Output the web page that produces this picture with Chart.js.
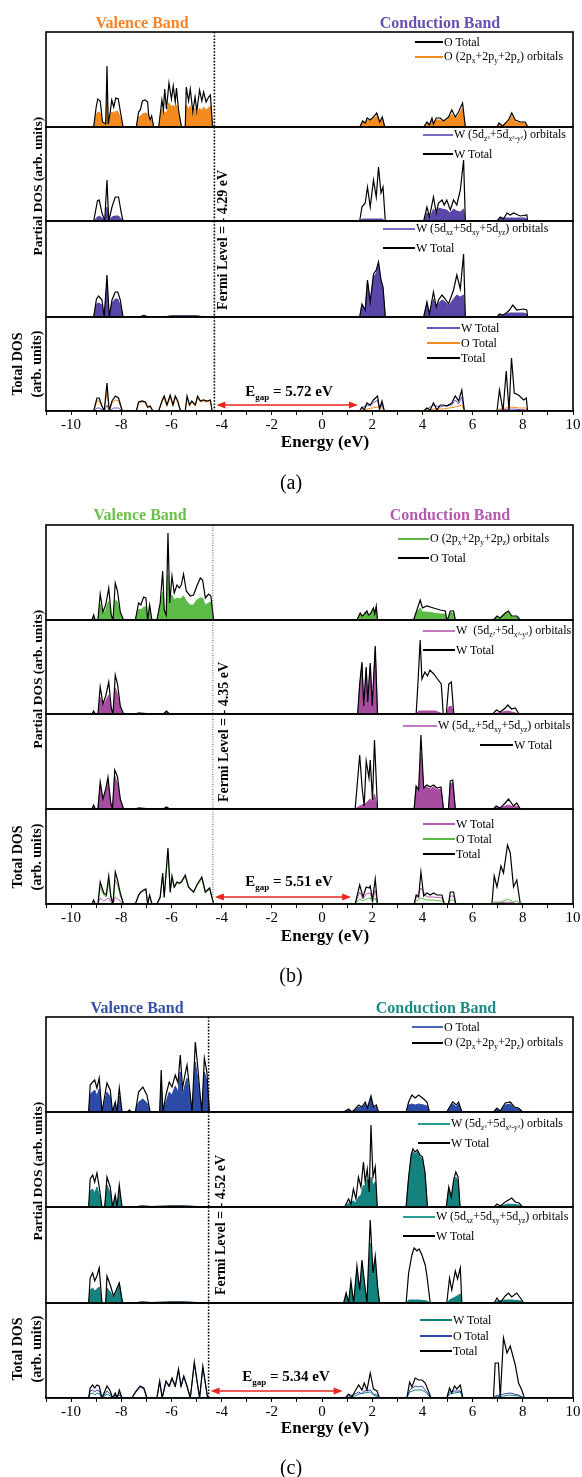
<!DOCTYPE html>
<html>
<head>
<meta charset="utf-8">
<script src="https://cdn.jsdelivr.net/npm/chart.js@4.4.0/dist/chart.umd.min.js"></script>
<style>
  body { margin: 0; background: #fff; width: 582px; height: 1477px; position: relative; overflow: hidden; font-family: "Liberation Serif", "Times New Roman", serif; }
  canvas { position: absolute; }
  .t { position: absolute; white-space: nowrap; transform: translate(-50%, -50%); line-height: 1; }
  .leg { position: absolute; white-space: nowrap; font-size: 12px; line-height: 1; transform: translateY(-50%); }
  .ln { position: absolute; height: 1.5px; }
  sub { font-size: 7.5px; vertical-align: -3px; }
</style>
</head>
<body>
<script>
// energy range (eV)
const xMin = -11, xMax = 10;

// ---------- panel (a) ----------
const a1_oTot = [[-9.5,0],[-9.1,0],[-9.0,20],[-8.94,28],[-8.84,26],[-8.75,5],[-8.62,3],[-8.57,61],[-8.52,3],[-8.44,15],[-8.38,27],[-8.3,20],[-8.22,29],[-8.12,28],[-8.0,10],[-7.93,0],
  [-7.4,0],[-7.31,15],[-7.24,17],[-7.16,26],[-7.05,27],[-6.95,25],[-6.91,12],[-6.85,7],[-6.79,11],[-6.71,0],
  [-6.51,0],[-6.38,27],[-6.32,17],[-6.27,38],[-6.2,18],[-6.1,44],[-6.0,28],[-5.93,41],[-5.85,25],[-5.8,39],[-5.72,17],[-5.6,0],
  [-5.45,0],[-5.41,40],[-5.32,26],[-5.25,38],[-5.15,15],[-5.06,30],[-4.99,16],[-4.88,37],[-4.79,26],[-4.72,35],[-4.62,25],[-4.52,30],[-4.45,32],[-4.36,0],
  [1.5,0],[1.62,6],[1.72,4],[1.8,9],[1.92,7],[2.05,10],[2.18,14],[2.3,5],[2.4,10],[2.5,0],
  [4.05,0],[4.18,5],[4.28,2],[4.38,9],[4.44,3],[4.55,9],[4.71,9],[4.84,6],[5.04,10],[5.17,17],[5.31,10],[5.44,15],[5.6,24],[5.71,0],
  [6.97,0],[7.05,4],[7.2,1],[7.43,7],[7.56,14],[7.7,7],[7.9,5],[8.1,5],[8.2,0],[8.3,0]];
const a1_oOrb = [[-9.5,0],[-9.1,0],[-9.0,12],[-8.94,15],[-8.84,14],[-8.75,4],[-8.62,2],[-8.57,31],[-8.52,2],[-8.44,12],[-8.38,15],[-8.3,14],[-8.22,16],[-8.12,15],[-8.0,6],[-7.93,0],
  [-7.4,0],[-7.31,10],[-7.24,11],[-7.16,13],[-7.05,14],[-6.95,13],[-6.91,8],[-6.85,5],[-6.79,7],[-6.71,0],
  [-6.51,0],[-6.38,18],[-6.3,15],[-6.2,14],[-6.1,24],[-6.0,20],[-5.93,22],[-5.85,19],[-5.8,22],[-5.72,13],[-5.6,0],
  [-5.45,0],[-5.41,22],[-5.32,18],[-5.25,21],[-5.15,12],[-5.06,19],[-4.99,13],[-4.88,19],[-4.79,16],[-4.72,20],[-4.62,17],[-4.52,19],[-4.45,21],[-4.36,0],
  [1.5,0],[1.62,5],[1.72,3],[1.8,7],[1.92,6],[2.05,8],[2.18,11],[2.3,4],[2.4,8],[2.5,0],
  [4.05,0],[4.18,4],[4.28,1],[4.38,7],[4.44,2],[4.55,7],[4.71,7],[4.84,5],[5.04,8],[5.17,13],[5.31,8],[5.44,12],[5.6,19],[5.71,0],
  [6.97,0],[7.05,3],[7.2,1],[7.43,5],[7.56,11],[7.7,5],[7.9,4],[8.1,4],[8.2,0],[8.3,0]];
const a2_wTot = [[-9.1,0],[-8.95,20],[-8.88,21],[-8.77,8],[-8.66,0],[-8.57,41],[-8.5,0],[-8.37,14],[-8.24,24],[-8.11,24],[-8.0,8],[-7.93,0],
  [1.5,0],[1.59,14],[1.72,18],[1.81,34],[1.92,14],[2.05,41],[2.16,24],[2.25,54],[2.35,28],[2.43,34],[2.52,0],
  [4.05,0],[4.18,14],[4.28,4],[4.44,24],[4.55,8],[4.64,18],[4.78,21],[4.87,16],[4.97,21],[5.11,11],[5.24,21],[5.37,16],[5.51,31],[5.64,61],[5.71,0],
  [6.97,0],[7.1,4],[7.23,2],[7.37,8],[7.5,6],[7.63,8],[7.9,5],[8.16,6],[8.19,0]];
const a2_wEg = [[-9.1,0],[-8.95,4],[-8.88,5],[-8.77,3],[-8.66,0],[-8.57,14],[-8.5,0],[-8.37,4],[-8.24,5],[-8.11,5],[-8.0,2],[-7.93,0],
  [1.5,0],[1.6,2],[2.0,2],[2.4,2],[2.52,0],
  [4.05,0],[4.18,8],[4.3,3],[4.44,12],[4.55,6],[4.64,13],[4.78,12],[4.97,11],[5.11,8],[5.24,12],[5.37,10],[5.51,9],[5.64,12],[5.71,0],
  [6.97,0],[7.1,3],[7.5,3],[8.1,3],[8.19,0]];
const a3_wTot = [[-9.1,0],[-8.99,18],[-8.9,21],[-8.77,17],[-8.68,0],[-8.57,42],[-8.48,0],[-8.37,17],[-8.24,25],[-8.14,25],[-8.04,17],[-7.93,0],
  [-7.3,0],[-7.1,1.5],[-6.9,0],[-6.4,0],[-6.0,1],[-5.5,1],[-5.0,1],[-4.6,0],
  [1.5,0],[1.59,13],[1.72,7],[1.81,37],[1.92,15],[2.05,43],[2.16,47],[2.25,55],[2.35,37],[2.43,30],[2.52,0],
  [4.05,0],[4.18,15],[4.28,3],[4.44,25],[4.55,10],[4.64,17],[4.78,22],[4.91,18],[5.04,13],[5.24,27],[5.37,42],[5.51,28],[5.64,63],[5.71,0],
  [6.97,0],[7.07,3],[7.21,2],[7.34,4],[7.47,7],[7.6,12],[7.76,7],[8.03,8],[8.16,7],[8.19,0]];
const a3_wT2g = [[-9.1,0],[-8.99,13],[-8.9,14],[-8.77,12],[-8.68,0],[-8.57,33],[-8.48,0],[-8.37,14],[-8.24,18],[-8.14,18],[-8.04,12],[-7.93,0],
  [-7.3,0],[-7.1,1],[-6.9,0],[-6.4,0],[-6.0,1],[-5.5,1],[-5.0,1],[-4.6,0],
  [1.5,0],[1.59,12],[1.72,6],[1.81,35],[1.92,14],[2.05,40],[2.16,44],[2.25,52],[2.35,35],[2.43,28],[2.52,0],
  [4.05,0],[4.18,12],[4.28,2],[4.44,18],[4.55,8],[4.64,14],[4.78,17],[4.91,15],[5.04,11],[5.24,18],[5.37,22],[5.51,20],[5.64,22],[5.71,0],
  [6.97,0],[7.07,2],[7.21,1],[7.34,3],[7.47,4],[7.6,4],[7.76,4],[8.03,4],[8.16,3],[8.19,0]];
const a4_tot = [[-9.1,0],[-8.97,13],[-8.88,13],[-8.77,5],[-8.68,0],[-8.57,28],[-8.48,0],[-8.37,10],[-8.24,15],[-8.11,13],[-7.96,0],
  [-7.4,0],[-7.31,9],[-7.17,10],[-7.04,9],[-6.95,4],[-6.85,5],[-6.74,0],
  [-6.51,0],[-6.38,10],[-6.29,15],[-6.18,6],[-6.05,16],[-5.94,6],[-5.85,15],[-5.75,10],[-5.64,0],
  [-5.45,0],[-5.38,15],[-5.28,6],[-5.19,10],[-5.05,6],[-4.96,15],[-4.85,10],[-4.72,11],[-4.59,10],[-4.45,11],[-4.38,0],
  [1.5,0],[1.59,4],[1.68,1],[1.79,8],[1.92,6],[2.05,11],[2.21,15],[2.29,2],[2.39,10],[2.48,0],
  [4.05,0],[4.18,3],[4.31,1],[4.44,8],[4.58,1],[4.71,6],[4.84,6],[4.97,5],[5.17,8],[5.31,15],[5.44,10],[5.57,21],[5.67,0],
  [6.97,0],[7.07,21],[7.21,0],[7.34,40],[7.45,0],[7.55,53],[7.66,18],[7.83,16],[8.03,11],[8.14,13],[8.19,0]];
const a4_oTot = [[-9.1,0],[-8.97,10],[-8.88,10],[-8.77,4],[-8.68,0],[-8.57,20],[-8.48,0],[-8.37,8],[-8.24,11],[-8.11,10],[-7.96,0],
  [-7.4,0],[-7.31,8],[-7.17,9],[-7.04,8],[-6.95,3],[-6.85,4],[-6.74,0],
  [-6.51,0],[-6.38,9],[-6.29,13],[-6.18,5],[-6.05,14],[-5.94,5],[-5.85,13],[-5.75,9],[-5.64,0],
  [-5.45,0],[-5.38,13],[-5.28,5],[-5.19,9],[-5.05,5],[-4.96,13],[-4.85,9],[-4.72,10],[-4.59,9],[-4.45,10],[-4.38,0],
  [1.5,0],[1.8,2],[2.2,4],[2.4,3],[2.48,0],[4.05,0],[4.44,2],[4.84,2],[5.31,4],[5.57,6],[5.67,0],
  [6.97,0],[7.07,2],[7.34,3],[7.55,4],[7.83,3],[8.14,3],[8.19,0]];
const a4_wTot = [[-9.1,0],[-8.97,3],[-8.88,3],[-8.68,0],[-8.57,6],[-8.48,0],[-8.3,3],[-8.11,3],[-7.96,0],[-6.0,0.5],[-4.38,0],
  [1.5,0],[1.59,3],[1.79,6],[1.92,5],[2.05,8],[2.21,11],[2.29,1],[2.39,7],[2.48,0],
  [4.05,0],[4.18,2],[4.44,6],[4.71,4],[4.84,5],[5.17,6],[5.31,11],[5.44,7],[5.57,14],[5.67,0],
  [6.97,0],[7.07,1],[7.55,2],[8.14,1],[8.19,0]];

// ---------- panel (b) ----------
const b1_oTot = [[-9.5,0],[-9.17,0],[-9.1,5],[-9.04,0],[-8.93,0],[-8.84,26],[-8.73,8],[-8.62,15],[-8.5,32],[-8.4,5],[-8.33,0],[-8.24,37],[-8.15,29],[-8.04,8],[-7.91,0],
  [-7.44,0],[-7.31,17],[-7.22,15],[-7.11,23],[-7.02,22],[-6.95,0],[-6.87,15],[-6.78,0],
  [-6.58,0],[-6.45,17],[-6.35,49],[-6.29,10],[-6.21,5],[-6.14,87],[-6.07,17],[-5.98,44],[-5.89,27],[-5.78,35],[-5.69,32],[-5.61,35],[-5.52,46],[-5.41,29],[-5.25,24],[-5.12,25],[-4.99,34],[-4.85,42],[-4.76,40],[-4.65,22],[-4.52,26],[-4.43,24],[-4.32,0],
  [1.39,0],[1.52,7],[1.6,4],[1.65,5],[1.79,9],[1.85,5],[1.92,6],[2.05,12],[2.1,6],[2.16,14],[2.21,0],
  [3.65,0],[3.78,10],[3.91,20],[4.0,12],[4.18,14],[4.44,12],[4.71,10],[4.91,9],[4.97,0],[5.04,3],[5.11,9],[5.24,9],[5.31,0],
  [6.83,0],[6.97,4],[7.1,2],[7.3,7],[7.43,9],[7.56,4],[7.76,4],[7.9,0]];
const b1_oOrb = [[-9.5,0],[-9.17,0],[-9.1,3],[-9.04,0],[-8.93,0],[-8.84,16],[-8.73,6],[-8.62,10],[-8.5,19],[-8.4,3],[-8.33,0],[-8.24,20],[-8.15,18],[-8.04,6],[-7.91,0],
  [-7.44,0],[-7.31,11],[-7.22,10],[-7.11,13],[-7.02,13],[-6.95,0],[-6.87,10],[-6.78,0],
  [-6.58,0],[-6.45,15],[-6.35,28],[-6.29,8],[-6.21,4],[-6.14,45],[-6.07,15],[-5.98,25],[-5.89,20],[-5.78,22],[-5.69,21],[-5.61,22],[-5.52,24],[-5.41,19],[-5.25,15],[-5.12,15],[-4.99,20],[-4.85,22],[-4.76,22],[-4.65,15],[-4.52,17],[-4.43,18],[-4.32,0],
  [1.39,0],[1.52,6],[1.6,3],[1.65,4],[1.79,8],[1.85,4],[1.92,5],[2.05,11],[2.1,5],[2.16,13],[2.21,0],
  [3.65,0],[3.78,8],[3.91,12],[4.0,8],[4.18,8],[4.44,7],[4.71,6],[4.91,6],[4.97,0],[5.04,2],[5.11,7],[5.24,7],[5.31,0],
  [6.83,0],[6.97,3],[7.1,2],[7.3,6],[7.43,8],[7.56,3],[7.76,3],[7.9,0]];
const b2_wTot = [[-9.17,0],[-9.1,3],[-9.04,0],[-8.93,0],[-8.84,27],[-8.73,10],[-8.62,18],[-8.5,32],[-8.4,6],[-8.33,0],[-8.24,39],[-8.15,30],[-8.04,8],[-7.91,0],
  [-7.5,0],[-7.3,1],[-7.0,0.5],[-6.3,0.5],[-6.2,3],[-6.1,0.5],[-5.5,0.5],[-4.8,0.5],[-4.6,0],
  [1.42,0],[1.5,30],[1.59,52],[1.66,8],[1.76,47],[1.82,12],[1.92,51],[2.0,8],[2.12,68],[2.21,0],
  [3.75,0],[3.82,30],[3.91,74],[3.98,35],[4.1,42],[4.2,38],[4.3,44],[4.45,40],[4.6,35],[4.75,30],[4.83,0],[4.95,0],[5.05,30],[5.15,32],[5.25,0],
  [6.8,0],[6.95,4],[7.1,2],[7.3,6],[7.4,9],[7.55,5],[7.7,6],[7.85,0]];
const b2_wEg = [[-9.17,0],[-9.1,2],[-9.04,0],[-8.93,0],[-8.84,17],[-8.73,8],[-8.62,13],[-8.5,19],[-8.4,4],[-8.33,0],[-8.24,26],[-8.15,20],[-8.04,6],[-7.91,0],
  [-7.5,0],[-7.3,1],[-7.0,0.5],[-6.3,0.5],[-6.2,3],[-6.1,0.5],[-5.5,0.5],[-4.8,0.5],[-4.6,0],
  [1.42,0],[1.5,28],[1.59,50],[1.66,8],[1.76,45],[1.82,12],[1.92,49],[2.0,8],[2.12,65],[2.21,0],
  [3.75,0],[3.85,3],[4.5,3],[4.83,0],[4.95,0],[5.05,7],[5.15,8],[5.25,0],
  [6.8,0],[7.0,1],[7.4,3],[7.85,0]];
const b3_wTot = [[-9.17,0],[-9.1,4],[-9.04,0],[-8.93,0],[-8.84,27],[-8.73,10],[-8.62,20],[-8.53,32],[-8.42,6],[-8.35,0],[-8.26,39],[-8.15,32],[-8.04,10],[-7.91,0],
  [-7.5,0],[-7.3,1],[-7.0,0.5],[-6.3,0.5],[-6.2,2],[-6.1,0.5],[-5.5,0.5],[-4.8,0.5],[-4.6,0],
  [1.32,0],[1.5,54],[1.6,20],[1.68,3],[1.76,48],[1.87,31],[1.92,49],[2.01,9],[2.09,69],[2.21,0],
  [3.67,0],[3.75,23],[3.85,19],[3.94,74],[4.05,21],[4.18,24],[4.31,22],[4.44,24],[4.58,21],[4.74,22],[4.84,0],[5.04,0],[5.11,28],[5.21,29],[5.31,0],
  [6.83,0],[6.94,3],[7.1,1],[7.3,6],[7.43,10],[7.63,3],[7.76,6],[7.9,0]];
const b3_wT2g = [[-9.17,0],[-9.1,3],[-9.04,0],[-8.93,0],[-8.84,24],[-8.73,9],[-8.62,17],[-8.53,28],[-8.42,5],[-8.35,0],[-8.26,33],[-8.15,25],[-8.04,8],[-7.91,0],
  [-7.5,0],[-7.3,1],[-7.0,0.5],[-6.3,0.5],[-6.2,2],[-6.1,0.5],[-5.5,0.5],[-4.8,0.5],[-4.6,0],
  [1.32,0],[1.5,3],[1.68,5],[1.76,6],[1.92,10],[2.01,8],[2.09,15],[2.21,0],
  [3.67,0],[3.75,23],[3.85,19],[3.94,56],[4.05,21],[4.18,22],[4.31,20],[4.44,22],[4.58,19],[4.74,20],[4.84,0],[5.04,0],[5.11,25],[5.21,26],[5.31,0],
  [6.83,0],[6.94,2],[7.1,1],[7.3,3],[7.43,4],[7.63,2],[7.76,3],[7.9,0]];
const b4_tot = [[-9.17,0],[-9.1,4],[-9.04,0],[-8.93,0],[-8.84,22],[-8.7,11],[-8.6,9],[-8.5,28],[-8.41,7],[-8.33,0],[-8.24,32],[-8.15,24],[-8.04,11],[-7.91,0],
  [-7.44,0],[-7.31,9],[-7.22,12],[-7.11,14],[-7.02,15],[-6.95,0],[-6.87,9],[-6.78,0],
  [-6.58,0],[-6.45,7],[-6.35,31],[-6.29,7],[-6.14,56],[-6.05,12],[-5.98,28],[-5.89,17],[-5.78,22],[-5.69,21],[-5.61,22],[-5.45,29],[-5.32,17],[-5.12,12],[-4.99,19],[-4.79,27],[-4.65,12],[-4.48,16],[-4.32,0],
  [1.32,0],[1.5,19],[1.63,7],[1.76,17],[1.87,16],[1.92,18],[2.01,4],[2.12,25],[2.21,0],
  [3.67,0],[3.75,9],[3.85,7],[3.94,32],[4.05,8],[4.18,11],[4.31,9],[4.44,11],[4.58,9],[4.78,9],[4.87,0],[5.04,0],[5.11,12],[5.24,12],[5.33,0],
  [6.77,0],[6.86,28],[6.97,17],[7.13,38],[7.23,31],[7.39,59],[7.5,51],[7.63,17],[7.76,24],[7.9,0]];
const b4_oTot = [[-9.17,0],[-9.1,3],[-9.04,0],[-8.93,0],[-8.84,17],[-8.7,9],[-8.6,7],[-8.5,21],[-8.41,5],[-8.33,0],[-8.24,24],[-8.15,19],[-8.04,8],[-7.91,0],
  [-7.44,0],[-7.31,8],[-7.22,11],[-7.11,13],[-7.02,14],[-6.95,0],[-6.87,8],[-6.78,0],
  [-6.58,0],[-6.45,6],[-6.35,29],[-6.29,6],[-6.14,53],[-6.05,11],[-5.98,26],[-5.89,16],[-5.78,21],[-5.69,20],[-5.61,21],[-5.45,27],[-5.32,16],[-5.12,11],[-4.99,18],[-4.79,25],[-4.65,11],[-4.48,15],[-4.32,0],
  [1.32,0],[1.5,5],[1.63,3],[1.76,5],[1.92,6],[2.01,2],[2.12,6],[2.21,0],
  [3.67,0],[3.75,3],[3.94,6],[4.18,4],[4.44,4],[4.78,3],[4.87,0],[5.04,0],[5.11,4],[5.24,4],[5.33,0],
  [6.77,0],[6.86,2],[7.13,2],[7.39,5],[7.63,2],[7.76,3],[7.9,0]];
const b4_wTot = [[-9.17,0],[-8.93,0],[-8.84,6],[-8.7,3],[-8.5,6],[-8.41,2],[-8.33,0],[-8.24,7],[-8.15,5],[-7.91,0],[-6.2,0.5],[-4.32,0],
  [1.32,0],[1.5,12],[1.63,5],[1.76,10],[1.92,11],[2.01,3],[2.12,14],[2.21,0],
  [3.67,0],[3.75,6],[3.94,16],[4.18,7],[4.44,7],[4.78,6],[4.87,0],[5.04,0],[5.11,8],[5.24,8],[5.33,0],
  [6.77,0],[6.86,1],[7.39,2],[7.9,0]];

// ---------- panel (c) ----------
const c1_oTot = [[-9.5,0],[-9.3,0],[-9.24,18],[-9.14,20],[-9.06,22],[-8.97,16],[-8.88,23],[-8.77,0],[-8.57,20],[-8.44,15],[-8.35,0],[-8.24,7],[-8.17,0],[-8.08,16],[-7.97,0],
  [-7.77,0],[-7.68,1.5],[-7.58,0],[-7.44,0],[-7.31,10],[-7.14,13],[-6.98,9],[-6.85,0],
  [-6.47,0],[-6.41,28],[-6.34,0],[-6.22,10],[-6.09,20],[-5.98,17],[-5.85,26],[-5.74,20],[-5.65,40],[-5.56,17],[-5.45,28],[-5.38,34],[-5.28,17],[-5.18,0],[-5.05,50],[-4.96,34],[-4.85,10],[-4.79,0],[-4.69,40],[-4.59,30],[-4.49,0],
  [0.86,0],[1.06,2],[1.19,0],[1.32,2],[1.46,5],[1.59,4],[1.72,8],[1.81,3],[1.95,13],[2.05,4],[2.16,5],[2.25,0],
  [3.35,0],[3.45,7],[3.58,8],[3.71,7],[3.85,8],[4.05,7],[4.18,6],[4.28,0],
  [4.97,0],[5.08,4],[5.21,8],[5.35,5],[5.44,8],[5.57,0],
  [6.83,0],[6.97,3],[7.1,0.5],[7.3,7],[7.5,8],[7.66,4],[7.83,3],[8.0,0],[8.3,0]];
const c1_oOrb = [[-9.5,0],[-9.3,0],[-9.24,27],[-9.14,30],[-9.06,32],[-8.97,24],[-8.88,34],[-8.77,0],[-8.57,29],[-8.44,22],[-8.35,0],[-8.24,10],[-8.17,0],[-8.08,24],[-7.97,0],
  [-7.77,0],[-7.68,2],[-7.58,0],[-7.44,0],[-7.31,20],[-7.14,25],[-6.98,17],[-6.85,0],
  [-6.47,0],[-6.41,42],[-6.34,0],[-6.22,17],[-6.09,30],[-5.98,25],[-5.85,37],[-5.74,29],[-5.65,57],[-5.56,24],[-5.45,39],[-5.38,47],[-5.28,24],[-5.18,0],[-5.05,70],[-4.96,47],[-4.85,15],[-4.79,0],[-4.69,54],[-4.59,40],[-4.49,0],
  [0.86,0],[1.06,3],[1.19,0],[1.32,3],[1.46,7],[1.59,5],[1.72,10],[1.81,4],[1.95,16],[2.05,5],[2.16,7],[2.25,0],
  [3.35,0],[3.45,10],[3.58,17],[3.71,14],[3.85,17],[4.05,13],[4.18,10],[4.28,0],
  [4.97,0],[5.08,5],[5.21,10],[5.35,7],[5.44,10],[5.57,0],
  [6.83,0],[6.97,4],[7.1,1],[7.3,9],[7.5,10],[7.66,5],[7.83,4],[8.0,0],[8.3,0]];
const c2_wTot = [[-9.3,0],[-9.24,28],[-9.14,32],[-9.06,25],[-8.97,34],[-8.88,20],[-8.77,0],[-8.66,0],[-8.57,30],[-8.44,20],[-8.35,0],[-8.24,12],[-8.17,0],[-8.08,22],[-7.97,0],
  [-7.5,0],[-7.2,1],[-6.8,0.5],[-6.0,1],[-5.5,1],[-5.0,0.5],[-4.6,0],
  [0.9,0],[1.06,8],[1.15,3],[1.25,18],[1.35,8],[1.45,30],[1.55,20],[1.65,45],[1.72,25],[1.8,38],[1.88,15],[1.95,82],[2.03,30],[2.12,40],[2.2,0],
  [3.35,0],[3.45,30],[3.55,52],[3.62,58],[3.7,55],[3.8,57],[3.9,52],[4.0,50],[4.1,35],[4.2,0],
  [4.95,0],[5.05,20],[5.15,10],[5.25,28],[5.33,35],[5.42,30],[5.5,0],
  [6.86,0],[6.97,3],[7.1,1],[7.3,5],[7.43,7],[7.56,9],[7.7,5],[7.85,4],[8.0,0]];
const c2_wEg = [[-9.3,0],[-9.24,16],[-9.14,18],[-9.06,14],[-8.97,20],[-8.88,12],[-8.77,0],[-8.66,0],[-8.57,22],[-8.44,14],[-8.35,0],[-8.24,9],[-8.17,0],[-8.08,16],[-7.97,0],
  [-7.5,0],[-7.2,1],[-6.8,0.5],[-6.0,1],[-5.5,1],[-5.0,0.5],[-4.6,0],
  [0.9,0],[1.06,4],[1.25,6],[1.35,4],[1.45,10],[1.55,12],[1.65,22],[1.72,20],[1.8,28],[1.88,12],[1.95,30],[2.03,22],[2.12,25],[2.2,0],
  [3.35,0],[3.45,28],[3.55,50],[3.62,55],[3.7,53],[3.8,55],[3.9,50],[4.0,48],[4.1,33],[4.2,0],
  [4.95,0],[5.05,18],[5.15,8],[5.25,25],[5.33,30],[5.42,26],[5.5,0],
  [6.86,0],[7.1,1],[7.43,3],[7.85,2],[8.0,0]];
const c3_wTot = [[-9.3,0],[-9.24,25],[-9.14,30],[-9.06,22],[-8.97,27],[-8.88,35],[-8.77,0],[-8.62,0],[-8.57,27],[-8.44,18],[-8.31,7],[-8.2,13],[-8.08,20],[-7.95,0],
  [-7.5,0],[-7.2,1],[-6.8,0.5],[-6.0,1],[-5.5,1],[-5.0,0.5],[-4.6,0],
  [0.86,0],[0.96,10],[1.06,0],[1.15,22],[1.26,0],[1.39,37],[1.5,13],[1.59,43],[1.68,23],[1.79,0],[1.92,83],[2.03,30],[2.12,47],[2.21,17],[2.29,0],
  [3.35,0],[3.45,30],[3.58,48],[3.67,55],[3.78,52],[3.87,54],[3.98,48],[4.11,38],[4.18,27],[4.31,0],
  [4.97,0],[5.08,25],[5.17,13],[5.31,32],[5.4,24],[5.51,35],[5.57,0],
  [6.86,0],[6.97,5],[7.1,0.5],[7.3,7],[7.43,10],[7.56,6],[7.76,10],[7.96,3],[8.03,0]];
const c3_wT2g = [[-9.3,0],[-9.24,13],[-9.14,15],[-9.06,12],[-8.97,14],[-8.88,16],[-8.77,0],[-8.62,0],[-8.57,15],[-8.44,11],[-8.31,5],[-8.2,10],[-8.08,20],[-7.95,0],
  [-7.5,0],[-7.2,1],[-6.8,0.5],[-6.0,1],[-5.5,1],[-5.0,0.5],[-4.6,0],
  [0.86,0],[0.96,8],[1.06,0],[1.15,18],[1.26,0],[1.39,32],[1.5,11],[1.59,38],[1.68,20],[1.79,0],[1.92,60],[2.03,27],[2.12,42],[2.21,15],[2.29,0],
  [3.35,0],[3.45,3],[3.87,3],[4.18,2],[4.31,0],
  [4.97,0],[5.08,3],[5.31,6],[5.51,9],[5.57,0],
  [6.86,0],[6.97,2],[7.3,3],[7.56,3],[7.96,2],[8.03,0]];
const c4_tot = [[-9.3,0],[-9.24,10],[-9.14,13],[-9.06,10],[-8.97,13],[-8.88,12],[-8.77,0],[-8.57,12],[-8.44,7],[-8.35,0],[-8.24,5],[-8.17,0],[-8.08,8],[-7.97,0],
  [-7.58,0],[-7.44,6],[-7.25,12],[-7.1,10],[-6.98,0],
  [-6.58,0],[-6.47,17],[-6.37,0],[-6.22,17],[-6.09,12],[-5.98,20],[-5.85,12],[-5.72,29],[-5.62,12],[-5.51,22],[-5.38,12],[-5.25,0],[-5.09,36],[-4.98,17],[-4.88,0],[-4.75,32],[-4.65,15],[-4.56,0],
  [0.92,0],[1.06,4],[1.19,1],[1.32,7],[1.46,13],[1.59,8],[1.68,15],[1.79,8],[1.92,25],[2.05,9],[2.19,7],[2.29,0],
  [3.38,0],[3.49,16],[3.58,11],[3.71,20],[3.85,18],[3.98,18],[4.11,15],[4.24,7],[4.34,0],
  [4.97,0],[5.08,10],[5.17,5],[5.28,12],[5.37,9],[5.51,13],[5.61,0],
  [6.83,0],[6.9,35],[7.03,35],[7.1,0],[7.23,60],[7.37,45],[7.5,52],[7.7,33],[7.83,15],[7.96,8],[8.06,0]];
const c4_oTot = [[-9.3,0],[-9.24,7],[-9.14,8],[-9.06,6],[-8.97,8],[-8.88,7],[-8.77,0],[-8.57,7],[-8.44,4],[-8.35,0],[-8.24,3],[-8.17,0],[-8.08,5],[-7.97,0],
  [-7.58,0],[-7.44,5],[-7.25,11],[-7.1,9],[-6.98,0],
  [-6.58,0],[-6.47,16],[-6.37,0],[-6.22,16],[-6.09,11],[-5.98,19],[-5.85,11],[-5.72,27],[-5.62,11],[-5.51,21],[-5.38,11],[-5.25,0],[-5.09,34],[-4.98,16],[-4.88,0],[-4.75,30],[-4.65,14],[-4.56,0],
  [0.92,0],[1.06,2],[1.32,4],[1.46,6],[1.59,4],[1.68,7],[1.92,8],[2.05,4],[2.19,3],[2.29,0],
  [3.38,0],[3.49,8],[3.71,12],[3.85,11],[3.98,12],[4.11,8],[4.24,4],[4.34,0],
  [4.97,0],[5.08,6],[5.28,7],[5.51,7],[5.61,0],
  [6.83,0],[6.9,2],[7.23,4],[7.5,5],[7.83,3],[8.06,0]];
const c4_wTot = [[-9.3,0],[-9.24,4],[-9.14,5],[-9.06,3],[-8.97,5],[-8.88,4],[-8.77,0],[-8.57,4],[-8.44,2],[-8.35,0],[-8.08,3],[-7.97,0],[-6.0,0.5],[-4.56,0],
  [0.92,0],[1.32,2],[1.46,4],[1.68,5],[1.92,6],[2.05,3],[2.29,0],
  [3.38,0],[3.49,6],[3.71,8],[3.98,8],[4.11,6],[4.34,0],
  [4.97,0],[5.08,4],[5.28,5],[5.51,6],[5.61,0],
  [6.83,0],[6.9,1],[7.23,2],[7.5,3],[7.83,2],[8.06,0]];

// ---------- layout / style ----------
const LEFT = 46, WIDTH = 527, PADX = 14;
const FONT = '"Liberation Serif", "Times New Roman", serif';

const panels = [
  { tops: [32, 127, 221, 317, 411], fermi: -4.29, gap: 5.72, arrowY: 6, dash: { w: 1.6, c: '#000', d: [1.6, 1.6] },
    subs: [
      [{ d: a1_oTot, c: '#000' }, { d: a1_oOrb, c: '#f58a1f', fill: true }],
      [{ d: a2_wTot, c: '#000' }, { d: a2_wEg, c: '#5a45a8', fill: true }],
      [{ d: a3_wTot, c: '#000' }, { d: a3_wT2g, c: '#5a45a8', fill: true }],
      [{ d: a4_tot, c: '#000' }, { d: a4_oTot, c: '#f58a1f' }, { d: a4_wTot, c: '#6a55b8' }]
    ] },
  { tops: [525, 620, 714, 809, 904], fermi: -4.35, gap: 5.51, arrowY: 7, dash: { w: 1, c: '#555', d: [1, 1.5] },
    subs: [
      [{ d: b1_oTot, c: '#000' }, { d: b1_oOrb, c: '#5cba47', fill: true }],
      [{ d: b2_wTot, c: '#000' }, { d: b2_wEg, c: '#a84ca2', fill: true }],
      [{ d: b3_wTot, c: '#000' }, { d: b3_wT2g, c: '#a84ca2', fill: true }],
      [{ d: b4_tot, c: '#000' }, { d: b4_oTot, c: '#5cba47' }, { d: b4_wTot, c: '#b65cb0' }]
    ] },
  { tops: [1017, 1112, 1207, 1303, 1398], fermi: -4.52, gap: 5.34, arrowY: 7, dash: { w: 1.6, c: '#000', d: [1.6, 1.6] },
    subs: [
      [{ d: c1_oOrb, c: '#000' }, { d: c1_oTot, c: '#2c4ba6', fill: true }],
      [{ d: c2_wTot, c: '#000' }, { d: c2_wEg, c: '#16827e', fill: true }],
      [{ d: c3_wTot, c: '#000' }, { d: c3_wT2g, c: '#16827e', fill: true }],
      [{ d: c4_tot, c: '#000' }, { d: c4_oTot, c: '#2c4ba6' }, { d: c4_wTot, c: '#16827e' }]
    ] }
];

const framePlugin = {
  id: 'frame',
  afterDatasetsDraw(chart, args, o) {
    const { ctx, chartArea: a, scales: { x, y } } = chart;
    ctx.save();
    const fx = x.getPixelForValue(o.fermi);
    ctx.setLineDash(o.dash.d);
    ctx.lineWidth = o.dash.w;
    ctx.strokeStyle = o.dash.c;
    ctx.beginPath(); ctx.moveTo(fx, a.top); ctx.lineTo(fx, a.bottom); ctx.stroke();
    ctx.setLineDash([]);
    if (o.gap) {
      const x1 = fx + 2, x2 = x.getPixelForValue(o.fermi + o.gap), yy = y.getPixelForValue(o.arrowY);
      ctx.strokeStyle = ctx.fillStyle = '#e8251f';
      ctx.lineWidth = 1.3;
      ctx.beginPath(); ctx.moveTo(x1 + 6, yy); ctx.lineTo(x2 - 6, yy); ctx.stroke();
      ctx.beginPath(); ctx.moveTo(x1, yy); ctx.lineTo(x1 + 9, yy - 3.5); ctx.lineTo(x1 + 9, yy + 3.5); ctx.fill();
      ctx.beginPath(); ctx.moveTo(x2, yy); ctx.lineTo(x2 - 9, yy - 3.5); ctx.lineTo(x2 - 9, yy + 3.5); ctx.fill();
    }
    ctx.strokeStyle = '#000';
    ctx.lineWidth = 1.6;
    ctx.strokeRect(a.left, a.top, a.right - a.left, a.bottom - a.top);
    ctx.restore();
  }
};

function makeChart(p, i) {
  const top = p.tops[i], h = p.tops[i + 1] - top;
  const last = i === 3;
  const canvas = document.createElement('canvas');
  const ch = last ? h + 3 + 24 : h + 6;
  canvas.width = WIDTH + 2 * PADX;
  canvas.height = ch;
  canvas.style.left = (LEFT - PADX) + 'px';
  canvas.style.top = (top - 3) + 'px';
  canvas.style.width = canvas.width + 'px';
  canvas.style.height = ch + 'px';
  document.body.appendChild(canvas);

  const datasets = p.subs[i].map(s => ({
    data: s.d.map(([x, y]) => ({ x, y })),
    borderColor: s.c,
    backgroundColor: s.c,
    borderWidth: s.c === '#000' ? 1.2 : 1,
    fill: s.fill ? 'origin' : false,
    pointRadius: 0,
    tension: 0
  }));

  const xScale = last ? {
    type: 'linear', min: xMin, max: xMax,
    ticks: {
      stepSize: 1, autoSkip: false, maxRotation: 0, padding: 1, color: '#000',
      font: { family: FONT, size: 15 },
      callback: v => (v % 2 === 0 ? String(v) : '')
    },
    grid: { drawOnChartArea: false, color: '#000', tickLength: 4, lineWidth: 1 },
    border: { display: true, color: '#000', width: 1.5 },
    afterFit: s => { s.height = 24; }
  } : { type: 'linear', min: xMin, max: xMax, display: false };

  new Chart(canvas, {
    type: 'line',
    data: { datasets },
    options: {
      responsive: false,
      animation: false,
      events: [],
      layout: { autoPadding: false, padding: { left: PADX, right: PADX, top: 3, bottom: last ? 0 : 3 } },
      plugins: {
        legend: { display: false },
        tooltip: { enabled: false },
        frame: { fermi: p.fermi, dash: p.dash, gap: last ? p.gap : 0, arrowY: p.arrowY }
      },
      scales: {
        x: xScale,
        y: { min: 0, max: h, display: false }
      }
    },
    plugins: [framePlugin]
  });
}

panels.forEach(p => { for (let i = 0; i < 4; i++) makeChart(p, i); });

// ---------- text ----------
function txt(html, x, y, css) {
  const d = document.createElement('div');
  d.className = 't';
  d.innerHTML = html;
  d.style.left = x + 'px';
  d.style.top = y + 'px';
  Object.assign(d.style, css || {});
  document.body.appendChild(d);
  return d;
}
function leg(x1, x2, y, color, html) {
  const l = document.createElement('div');
  l.className = 'ln';
  l.style.left = x1 + 'px';
  l.style.width = (x2 - x1) + 'px';
  l.style.top = (y - 0.75) + 'px';
  l.style.background = color;
  document.body.appendChild(l);
  const t = document.createElement('div');
  t.className = 'leg';
  t.innerHTML = html;
  t.style.left = (x2 + 1) + 'px';
  t.style.top = y + 'px';
  document.body.appendChild(t);
}

const oOrb = 'O (2p<sub>x</sub>+2p<sub>y</sub>+2p<sub>z</sub>) orbitals';
const wEg = 'W (5d<sub>z²</sub>+5d<sub>x²-y²</sub>) orbitals';
const wEg2 = 'W&nbsp; (5d<sub>z²</sub>+5d<sub>x²-y²</sub>) orbitals';
const wT2g = 'W (5d<sub>xz</sub>+5d<sub>xy</sub>+5d<sub>yz</sub>) orbitals';

const labels = [
  { dy: 0, vb: '#f4842a', cb: '#6a50b0', vx: 142, cx: 440, vy: 23, fx: 223, fy: 240, fermi: '- 4.29', gap: '5.72', gx: 289, tag: '(a)' },
  { dy: 493, vb: '#6cc04a', cb: '#b45bae', vx: 140, cx: 450, vy: 515, fx: 224, fy: 732, fermi: '- 4.35', gap: '5.51', gx: 289, tag: '(b)' },
  { dy: 985, vb: '#3552a8', cb: '#1e8a86', vx: 137, cx: 436, vy: 1008, fx: 221, fy: 1225, fermi: '- 4.52', gap: '5.34', gx: 286, tag: '(c)' }
];
const egapY = [393, 883, 1378], energyY = [441, 935, 1427], tagY = [482, 975, 1467];

labels.forEach((L, k) => {
  const dy = L.dy;
  txt('Valence Band', L.vx, L.vy, { color: L.vb, fontSize: '16px', fontWeight: 'bold' });
  txt('Conduction Band', L.cx, L.vy, { color: L.cb, fontSize: '16px', fontWeight: 'bold' });
  txt('Partial DOS (arb. units)', 38, 186 + dy, { fontSize: '13.5px', fontWeight: 'bold', transform: 'translate(-50%,-50%) rotate(-90deg)' });
  txt('Total DOS', 18, 364 + dy, { fontSize: '14px', fontWeight: 'bold', transform: 'translate(-50%,-50%) rotate(-90deg)' });
  txt('(arb. units)', 37, 364 + dy, { fontSize: '14px', fontWeight: 'bold', transform: 'translate(-50%,-50%) rotate(-90deg)' });
  txt('Fermi Level = ' + L.fermi + ' eV', L.fx, L.fy, { fontSize: '14px', fontWeight: 'bold', transform: 'translate(-50%,-50%) rotate(-90deg)' });
  txt('E<sub style="font-size:9px;vertical-align:-4px">gap</sub> = ' + L.gap + ' eV', L.gx, egapY[k], { fontSize: '15px', fontWeight: 'bold' });
  txt('Energy (eV)', 325, energyY[k], { fontSize: '17px', fontWeight: 'bold' });
  txt(L.tag, 291, tagY[k], { fontSize: '20px' });
});

// legends panel (a)
leg(415, 443, 42, '#000', 'O Total');
leg(415, 443, 57, '#f58a1f', oOrb);
leg(423, 453, 135, '#7b68c0', wEg);
leg(423, 453, 154, '#000', 'W Total');
leg(383, 415, 229, '#7b68c0', wT2g);
leg(383, 415, 248, '#000', 'W Total');
leg(427, 460, 328, '#6a55b8', 'W Total');
leg(427, 460, 343, '#f58a1f', 'O Total');
leg(427, 460, 358, '#000', 'Total');
// legends panel (b)
leg(398, 429, 539, '#5cba47', oOrb);
leg(398, 429, 558, '#000', 'O Total');
leg(423, 455, 631, '#c478be', wEg2);
leg(423, 455, 650, '#000', 'W Total');
leg(403, 437, 726, '#c478be', wT2g);
leg(480, 513, 745, '#000', 'W Total');
leg(423, 455, 824, '#b65cb0', 'W Total');
leg(423, 455, 839, '#5cba47', 'O Total');
leg(423, 455, 854, '#000', 'Total');
// legends panel (c)
leg(412, 443, 1027, '#4a64b8', 'O Total');
leg(412, 443, 1043, '#000', oOrb);
leg(418, 450, 1124, '#2a9a95', wEg);
leg(418, 450, 1143, '#000', 'W Total');
leg(403, 435, 1217, '#2a9a95', wT2g);
leg(403, 435, 1236, '#000', 'W Total');
leg(420, 452, 1320, '#16827e', 'W Total');
leg(420, 452, 1336, '#2c4ba6', 'O Total');
leg(420, 452, 1351, '#000', 'Total');
</script>
</body>
</html>
